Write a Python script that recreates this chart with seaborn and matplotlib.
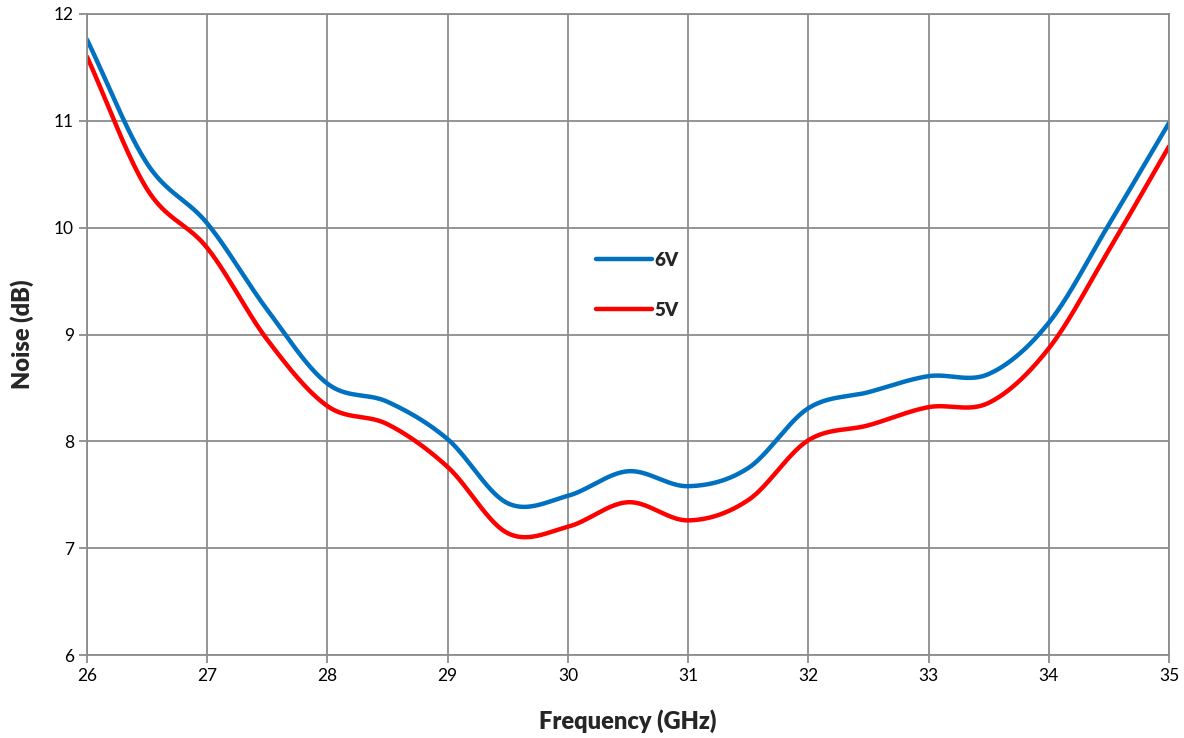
import numpy as np
import pandas as pd
import matplotlib
matplotlib.use("Agg")
import matplotlib.pyplot as plt
import seaborn as sns

freq = [26.0, 26.5, 27.0, 27.5, 28.0, 28.5, 29.0, 29.5, 30.0, 30.5, 31.0, 31.5, 32.0, 32.5, 33.0, 33.5, 34.0, 34.5, 35.0]
noise_6v = [11.76, 10.60, 10.04, 9.23, 8.54, 8.37, 8.02, 7.42, 7.49, 7.72, 7.58, 7.75, 8.31, 8.46, 8.61, 8.63, 9.11, 10.03, 10.98]
noise_5v = [11.60, 10.36, 9.81, 8.95, 8.33, 8.16, 7.76, 7.14, 7.20, 7.43, 7.26, 7.45, 8.01, 8.15, 8.32, 8.36, 8.87, 9.79, 10.76]
series_names = ["6V", "5V"]
colors = ["#0070C0", "#FF0000"]
x_ticks = [26, 27, 28, 29, 30, 31, 32, 33, 34, 35]
y_ticks = [6, 7, 8, 9, 10, 11, 12]


def smooth(xs, ys, n=40):
    xs = np.asarray(xs, float)
    ys = np.asarray(ys, float)
    px = np.concatenate([[2 * xs[0] - xs[1]], xs, [2 * xs[-1] - xs[-2]]])
    py = np.concatenate([[2 * ys[0] - ys[1]], ys, [2 * ys[-1] - ys[-2]]])
    ox, oy = [], []
    t = np.linspace(0, 1, n, endpoint=False)
    for i in range(1, len(px) - 2):
        p0 = np.array([px[i], py[i]])
        p3 = np.array([px[i + 1], py[i + 1]])
        c1 = p0 + (np.array([px[i + 1], py[i + 1]]) - np.array([px[i - 1], py[i - 1]])) / 6
        c2 = p3 - (np.array([px[i + 2], py[i + 2]]) - np.array([px[i], py[i]])) / 6
        b = ((1 - t) ** 3)[:, None] * p0 + (3 * (1 - t) ** 2 * t)[:, None] * c1 + \
            (3 * (1 - t) * t ** 2)[:, None] * c2 + (t ** 3)[:, None] * p3
        ox.extend(b[:, 0]); oy.extend(b[:, 1])
    ox.append(xs[-1]); oy.append(ys[-1])
    return np.array(ox), np.array(oy)


frames = []
for name, vals in zip(series_names, [noise_6v, noise_5v]):
    sx, sy = smooth(freq, vals)
    frames.append(pd.DataFrame({"Frequency": sx, "Noise": sy, "Series": name}))
df = pd.concat(frames, ignore_index=True)

sns.set_theme(style="white")
plt.rcParams["font.family"] = ["Lato", "DejaVu Sans"]

fig = plt.figure(figsize=(11.84, 7.38), dpi=100)
ax = fig.add_axes([87 / 1184, 1 - 655 / 738, (1169 - 87) / 1184, (655 - 14) / 738])

sns.lineplot(data=df, x="Frequency", y="Noise", hue="Series", hue_order=series_names,
             palette=colors, linewidth=3.2, sort=False, estimator=None, ax=ax,
             solid_capstyle="round")

ax.set_xlim(26, 35)
ax.set_ylim(6, 12)
ax.set_xticks(x_ticks)
ax.set_yticks(y_ticks)
ax.grid(True, color="#8c8c8c", linewidth=1.3)
for s in ax.spines.values():
    s.set_color("#8c8c8c")
    s.set_linewidth(1.3)
ax.tick_params(axis="both", which="both", length=6, width=1.3, color="#8c8c8c",
               labelsize=12.5, labelcolor="black", direction="out", bottom=True, left=True)
ax.set_xlabel("Frequency (GHz)", fontsize=17, fontweight="heavy", labelpad=18)
ax.set_ylabel("Noise (dB)", fontsize=17, fontweight="heavy", labelpad=14)

leg = ax.legend(loc="upper left", bbox_to_anchor=(0.4545, 0.655), frameon=False,
                handlelength=3.0, handletextpad=0.15, labelspacing=1.75,
                prop={"weight": "heavy", "size": 13.5})

fig.savefig("out.png", dpi=100)
